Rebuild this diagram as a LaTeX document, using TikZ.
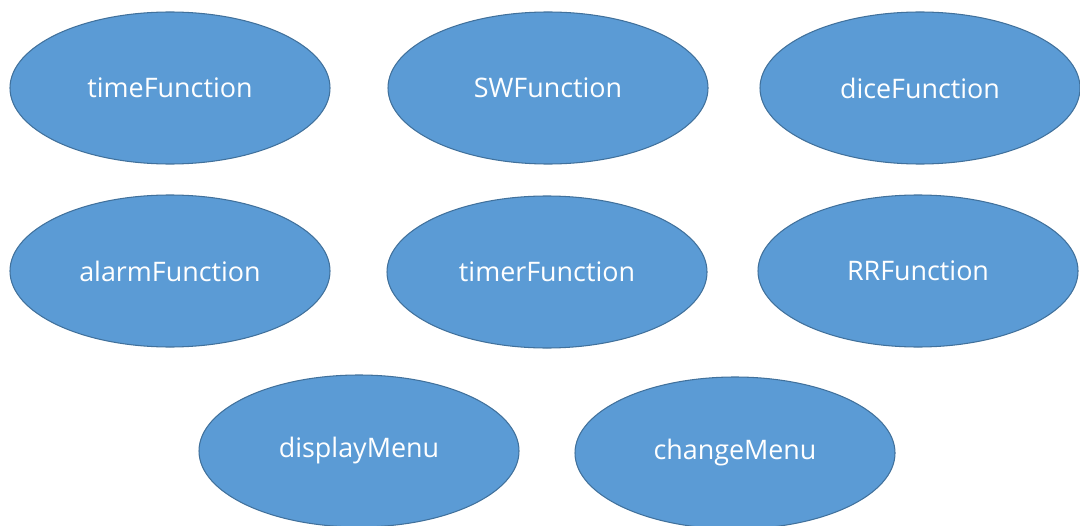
\documentclass[tikz,border=0pt]{standalone}
\usepackage{fontspec}
\setmainfont{Open Sans}
\usetikzlibrary{shapes.geometric}

\definecolor{fnfill}{HTML}{5B9BD5}
\definecolor{fnline}{HTML}{41719C}

\tikzset{
    func/.style={ellipse, draw=fnline, fill=fnfill, line width=0.6pt,
        minimum width=6.4cm, minimum height=3.04cm, inner sep=0pt,
        text=white, font=\fontsize{15.3}{18}\selectfont}
}

\begin{document}
\begin{tikzpicture}
    \useasboundingbox (0,0) rectangle (21.6,10.5);

    % first row
    \node[func] (time) at (3.4,8.74) {timeFunction};
    \node[func] (sw) at (10.96,8.74) {SWFunction};
    \node[func] (dice) at (18.4,8.74) {diceFunction};

    % second row
    \node[func] (alarm) at (3.4,5.08) {alarmFunction};
    \node[func] (timer) at (10.94,5.06) {timerFunction};
    \node[func] (rr) at (18.36,5.08) {RRFunction};

    % menus
    \node[func] (display) at (7.18,1.48) {displayMenu};
    \node[func] (change) at (14.7,1.44) {changeMenu};
\end{tikzpicture}
\end{document}
